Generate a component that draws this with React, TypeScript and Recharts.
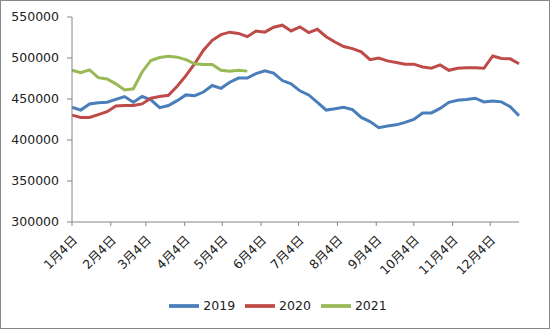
import React from "react"
import { LineChart, Line, XAxis, YAxis, Legend } from "recharts"

// day offset from Jan 4 for each weekly reading
const weekDays = [
  0, 7, 14, 21, 28, 35, 42, 49, 56, 63, 70, 77, 84, 91, 98, 105, 112, 119, 126, 133, 140, 147, 154, 161, 168, 175,
  182, 189, 196, 203, 210, 217, 224, 231, 238, 245, 252, 259, 266, 273, 280, 287, 294, 301, 308, 315, 322, 329, 336,
  343, 350, 357,
]

const monthLabels = [
  "1月4日", "2月4日", "3月4日", "4月4日", "5月4日", "6月4日",
  "7月4日", "8月4日", "9月4日", "10月4日", "11月4日", "12月4日",
]
const monthDays = [0, 31, 59, 90, 120, 151, 181, 212, 243, 273, 304, 334]

const yTicks = [300000, 350000, 400000, 450000, 500000, 550000]

const s2019 = [
  440000, 436500, 444000, 445500, 446000, 449500, 453000, 446000, 453000, 449000, 439500, 442000, 448000, 455000,
  454000, 458500, 466500, 463000, 470500, 475500, 475500, 481000, 484500, 481500, 472500, 468500, 460000, 455000,
  446000, 436500, 438000, 440000, 437000, 427500, 422500, 415000, 417000, 418500, 421500, 425000, 433000, 433000,
  438500, 446000, 448500, 449500, 451000, 446500, 447500, 446500, 440500, 429500,
]

const s2020 = [
  430300, 427500, 427500, 431000, 434500, 441500, 442000, 442000, 444000, 451000, 453000, 454500, 465500, 478500,
  493000, 509500, 521500, 528500, 531500, 530000, 526000, 533000, 531500, 537500, 540000, 533000, 538000, 531000,
  535000, 526000, 519500, 514000, 511500, 507500, 498000, 500000, 496500, 494500, 492500, 492500, 489000, 487500,
  491500, 485000, 487500, 488000, 488000, 487500, 502500, 499500, 499000, 493000,
]

const s2021 = [
  485000, 482000, 485500, 476000, 474500, 468500, 461000, 462500, 483000, 497000, 500500, 502000, 501000, 498000,
  493000, 492000, 492000, 485000, 484000, 485000, 484000,
]

const data = weekDays.map((day, i) => ({
  day,
  y2019: s2019[i],
  y2020: s2020[i],
  y2021: s2021[i],
}))

const font = "'DejaVu Sans', 'Noto Sans CJK SC', sans-serif"
const axisColor = "#868686"

const MonthTick = ({ x, y, payload }: any) => {
  const label = monthLabels[monthDays.indexOf(payload.value)]
  const tx = x + 6
  const ty = y + 13
  return (
    <text
      x={tx}
      y={ty}
      transform={`rotate(-45, ${tx}, ${ty})`}
      textAnchor="end"
      fontSize={12.5}
      fontFamily={font}
      fill="#222"
    >
      {label}
    </text>
  )
}

export default function App() {
  return (
    <div
      style={{
        width: 550,
        height: 329,
        border: "1px solid #888",
        boxSizing: "border-box",
        background: "#fff",
        position: "relative",
      }}
    >
      <style>{`body{margin:0}`}</style>
      <LineChart width={548} height={327} data={data} margin={{ top: 16, right: 30, left: 0, bottom: 7 }}>
        <XAxis
          dataKey="day"
          type="number"
          domain={[0, 357]}
          ticks={monthDays}
          interval={0}
          tick={<MonthTick />}
          tickSize={4}
          stroke={axisColor}
          height={69}
        />
        <YAxis
          domain={[300000, 550000]}
          ticks={yTicks}
          width={71}
          tickSize={5}
          tickMargin={8}
          stroke={axisColor}
          tick={{ fill: "#222", fontSize: 12.5, fontFamily: font }}
        />
        <Legend
          verticalAlign="bottom"
          iconType="plainline"
          iconSize={30}
          wrapperStyle={{ fontSize: 12.5, fontFamily: font, left: 23 }}
          formatter={(v: string) => <span style={{ color: "#222" }}>{v}</span>}
        />
        <Line dataKey="y2019" name="2019" stroke="#4A7EBB" strokeWidth={3} dot={false} isAnimationActive={false} />
        <Line dataKey="y2020" name="2020" stroke="#BE4B48" strokeWidth={3} dot={false} isAnimationActive={false} />
        <Line dataKey="y2021" name="2021" stroke="#98B954" strokeWidth={3} dot={false} isAnimationActive={false} />
      </LineChart>
    </div>
  )
}
